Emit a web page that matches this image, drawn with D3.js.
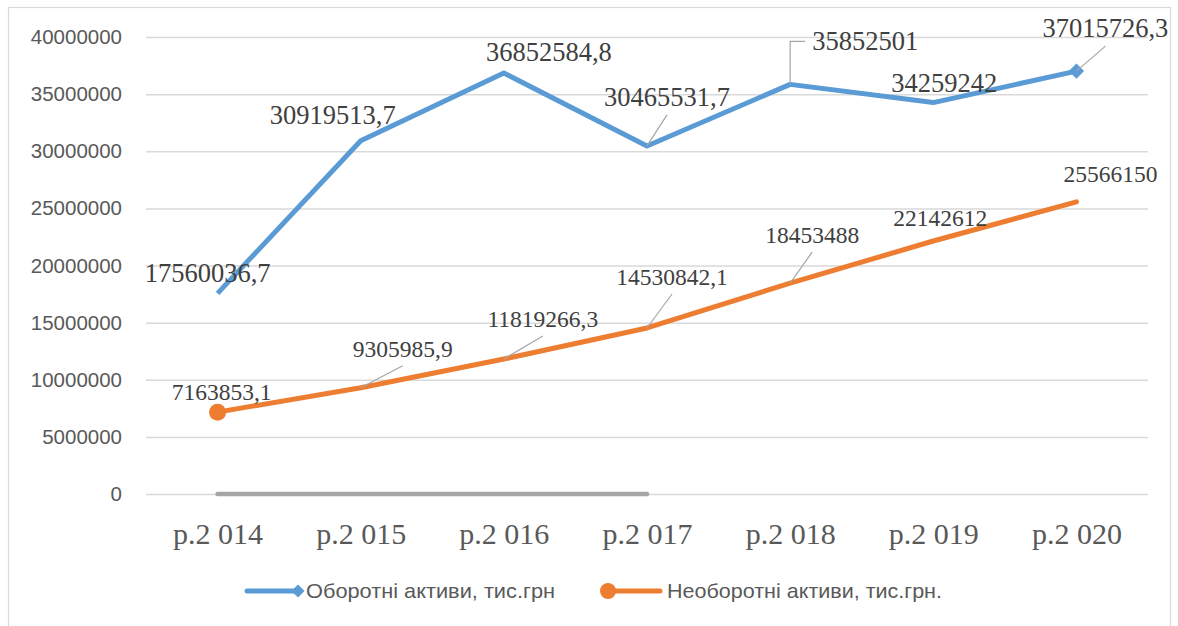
<!DOCTYPE html>
<html>
<head>
<meta charset="utf-8">
<script src="https://cdn.jsdelivr.net/npm/d3@7"></script>
<style>
  html, body { margin: 0; padding: 0; background: #fff; }
  svg { display: block; }
</style>
</head>
<body>
<svg id="chart" width="1178" height="626"></svg>
<script>
// Роки звітного періоду
const years = ["р.2 014", "р.2 015", "р.2 016", "р.2 017", "р.2 018", "р.2 019", "р.2 020"];

// Оборотні активи, тис.грн
const currentAssets = [17560036.7, 30919513.7, 36852584.8, 30465531.7, 35852501, 34259242, 37015726.3];
const currentLabels = ["17560036,7", "30919513,7", "36852584,8", "30465531,7", "35852501", "34259242", "37015726,3"];

// Необоротні активи, тис.грн.
const fixedAssets = [7163853.1, 9305985.9, 11819266.3, 14530842.1, 18453488, 22142612, 25566150];
const fixedLabels = ["7163853,1", "9305985,9", "11819266,3", "14530842,1", "18453488", "22142612", "25566150"];

// Допоміжний ряд (нульові значення)
const auxSeries = [0, 0, 0, 0];

const yTicks = [0, 5000000, 10000000, 15000000, 20000000, 25000000, 30000000, 35000000, 40000000];

const legendNames = ["Оборотні активи, тис.грн", "Необоротні активи, тис.грн."];

// Розміщення підписів відносно точок: [dx, dy, виноска]
const currentLabelPos = [
  [-10, -11, null], [-28, -17, null], [45, -12, null], [20, -40, "line"],
  [75, -34, "elbow"], [11, -11, null], [29, -34, "line"]
];
const fixedLabelPos = [
  [4, -12, null], [42, -31, "line"], [39, -32, "line"], [25, -43, "line"],
  [22, -40, "line"], [7, -15, null], [34, -20, null]
];

const svg = d3.select("#chart");
const BLUE = "#5b9bd5", ORANGE = "#ed7d31", GREY = "#a5a5a5";

// Рамка області діаграми
svg.append("rect")
  .attr("x", 8.5).attr("y", 7.5)
  .attr("width", 1162).attr("height", 640)
  .attr("fill", "#fff").attr("stroke", "#d9d9d9").attr("stroke-width", 1.2);

const x = d3.scalePoint().domain(years).range([146, 1148]).padding(0.5);
const y = d3.scaleLinear().domain([0, 40000000]).range([494, 37]);

// Горизонтальна сітка та підписи осі Y
const yAxis = d3.axisLeft(y).tickValues(yTicks).tickSize(-(1148 - 146)).tickPadding(24)
  .tickFormat(d3.format("d"));
const gy = svg.append("g").attr("transform", "translate(146,0)").call(yAxis);
gy.select(".domain").remove();
gy.selectAll(".tick line").attr("stroke", "#d9d9d9").attr("stroke-width", 1.5);
gy.selectAll(".tick text")
  .attr("fill", "#595959")
  .style("font-family", "'Liberation Sans', Arial, sans-serif")
  .style("font-size", "20.5px");

// Підписи осі X
const xAxis = d3.axisBottom(x).tickSize(0).tickPadding(0);
const gx = svg.append("g").attr("transform", "translate(0,494)").call(xAxis);
gx.select(".domain").remove();
gx.selectAll(".tick text")
  .attr("fill", "#595959")
  .attr("dy", null)
  .attr("y", 50)
  .style("font-family", "'Liberation Serif', 'Times New Roman', serif")
  .style("font-size", "30px");

const line = d3.line().x((d, i) => x(years[i])).y(d => y(d));

// Допоміжна сіра лінія на нулі
svg.append("path").datum(auxSeries)
  .attr("d", line).attr("fill", "none")
  .attr("stroke", GREY).attr("stroke-width", 4.5).attr("stroke-linecap", "round");

// Лінії рядів
svg.append("path").datum(currentAssets)
  .attr("d", line).attr("fill", "none")
  .attr("stroke", BLUE).attr("stroke-width", 5).attr("stroke-linejoin", "round");
svg.append("path").datum(fixedAssets)
  .attr("d", line).attr("fill", "none")
  .attr("stroke", ORANGE).attr("stroke-width", 5).attr("stroke-linejoin", "round")
  .attr("stroke-linecap", "round");

// Маркери
const diamond = d3.symbol().type(d3.symbolDiamond2).size(150);
const last = currentAssets.length - 1;
svg.append("path")
  .attr("d", diamond())
  .attr("transform", `translate(${x(years[last])},${y(currentAssets[last])})`)
  .attr("fill", BLUE);
svg.append("circle")
  .attr("cx", x(years[0])).attr("cy", y(fixedAssets[0])).attr("r", 8.5)
  .attr("fill", ORANGE);

// Підписи даних з виносками
function drawLabels(values, labels, pos, size) {
  const g = svg.append("g");
  values.forEach((v, i) => {
    const px = x(years[i]), py = y(v);
    const [dx, dy, leader] = pos[i];
    const tx = px + dx, ty = py + dy;
    if (leader === "line") {
      g.append("line")
        .attr("x1", tx).attr("y1", ty + 9)
        .attr("x2", px).attr("y2", py)
        .attr("stroke", "#a6a6a6").attr("stroke-width", 1.2);
    } else if (leader === "elbow") {
      g.append("polyline")
        .attr("points", `${tx - 60},${ty - 9} ${px},${ty - 9} ${px},${py}`)
        .attr("fill", "none")
        .attr("stroke", "#a6a6a6").attr("stroke-width", 1.2);
    }
    g.append("text")
      .attr("x", tx).attr("y", ty)
      .attr("text-anchor", "middle")
      .attr("fill", "#404040")
      .style("font-family", "'Liberation Serif', 'Times New Roman', serif")
      .style("font-size", size + "px")
      .text(labels[i]);
  });
}
drawLabels(currentAssets, currentLabels, currentLabelPos, 26.5);
drawLabels(fixedAssets, fixedLabels, fixedLabelPos, 23.5);

// Легенда
const lg = svg.append("g").attr("transform", "translate(0,591)");
lg.append("line").attr("x1", 247).attr("x2", 298).attr("y1", 0).attr("y2", 0)
  .attr("stroke", BLUE).attr("stroke-width", 5).attr("stroke-linecap", "round");
lg.append("path").attr("d", d3.symbol().type(d3.symbolDiamond2).size(110)())
  .attr("transform", "translate(298,0)").attr("fill", BLUE);
lg.append("text").attr("x", 306).attr("y", 0).attr("dy", "0.35em")
  .attr("fill", "#595959")
  .attr("textLength", 249).attr("lengthAdjust", "spacingAndGlyphs")
  .style("font-family", "'Liberation Sans', Arial, sans-serif")
  .style("font-size", "21px")
  .text(legendNames[0]);
lg.append("line").attr("x1", 608).attr("x2", 660).attr("y1", 0).attr("y2", 0)
  .attr("stroke", ORANGE).attr("stroke-width", 5).attr("stroke-linecap", "round");
lg.append("circle").attr("cx", 608).attr("cy", 0).attr("r", 8).attr("fill", ORANGE);
lg.append("text").attr("x", 667).attr("y", 0).attr("dy", "0.35em")
  .attr("fill", "#595959")
  .attr("textLength", 275).attr("lengthAdjust", "spacingAndGlyphs")
  .style("font-family", "'Liberation Sans', Arial, sans-serif")
  .style("font-size", "21px")
  .text(legendNames[1]);
</script>
</body>
</html>
